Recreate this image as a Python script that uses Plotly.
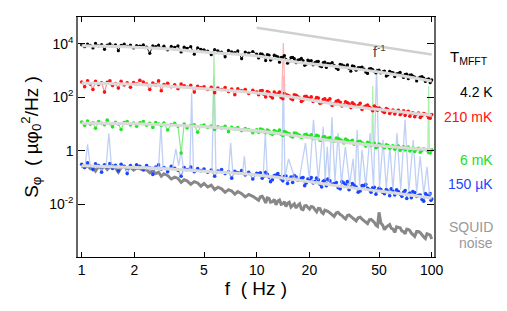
import numpy as np
import plotly.graph_objects as go

# ---------------- data (log10 of S_phi) ----------------
freq = [1.00,1.04,1.08,1.12,1.16,1.20,1.25,1.30,1.35,1.40,1.45,1.50,1.56,1.62,1.68,1.75,1.82,1.90,1.98,2.06,
        2.15,2.25,2.35,2.45,2.55,2.65,2.75,2.85,2.95,3.1,3.25,3.4,3.55,3.7,3.85,4.0,4.2,4.4,4.6,4.8,
        5.0,5.25,5.5,5.75,6.0,6.3,6.6,6.9,7.2,7.5,7.8,8.2,8.6,9.0,9.5,10.0,
        10.5,11,11.5,12,12.6,13.2,13.8,14.4,15,15.7,16.4,17.2,18,18.8,19.6,
        20.5,21.5,22.5,23.5,24.5,25.5,27,28.5,30,31.5,33,34.5,36,38,40,42,44,46,48,
        50,52.5,55,57.5,60,63,66,69,72,75,78,82,86,90,94,98,100]

# extra in-between frequencies (the spectra are dense above 10 Hz)
freq_hi = [10.25,10.75,11.25,11.75,12.3,12.9,13.5,14.1,14.7,15.35,16.05,16.8,17.6,18.4,19.2,
           20.05,21,22,23,24,25,26.2,27.7,29.2,30.7,32.2,33.7,35.2,37,39,41,43,45,47,49,
           51.2,53.7,56.2,58.7,61.5,64.5,67.5,70.5,73.5,76.5,80,84,88,92,96,99]

log_4K2 = [3.97,3.90,4.00,3.95,3.85,4.02,3.93,3.98,3.80,3.96,4.01,3.92,3.97,3.75,3.95,4.00,3.91,3.96,3.85,3.94,
           3.92,3.97,3.88,3.65,3.93,3.90,3.96,3.84,3.92,3.78,3.91,3.87,3.93,3.70,3.88,3.84,3.90,3.62,3.86,3.80,
           3.78,3.73,3.60,3.79,3.74,3.70,3.52,3.76,3.71,3.68,3.74,3.45,3.70,3.66,3.72,3.62,
           3.63,3.55,3.60,3.40,3.58,3.52,3.50,3.57,3.28,3.49,3.45,3.40,3.46,3.20,3.40,
           3.38,3.30,3.35,3.15,3.32,3.27,3.30,3.10,3.24,3.18,3.22,2.98,3.16,3.12,3.14,2.95,3.07,3.04,2.92,
           3.02,2.96,2.80,2.98,2.93,2.88,2.94,2.75,2.87,2.84,2.80,2.62,2.76,2.72,2.68,2.55,2.66]
log_4K2_hi = [3.48,3.62,3.38,3.58,3.45,3.55,3.32,3.50,3.42,3.36,3.50,3.30,3.42,3.38,3.25,
              3.36,3.22,3.34,3.18,3.30,3.12,3.26,3.20,3.05,3.22,3.14,3.08,3.18,3.02,3.12,3.06,2.90,3.08,2.98,3.00,
              2.92,2.99,2.84,2.94,2.78,2.90,2.82,2.86,2.70,2.85,2.76,2.72,2.78,2.60,2.70,2.62]

log_210mK = [2.58,2.40,2.62,2.50,2.30,2.60,2.48,2.55,2.20,2.57,2.62,2.45,2.52,2.35,2.60,2.47,2.55,2.38,2.56,2.50,
             2.64,2.58,2.50,2.30,2.54,2.46,2.62,2.25,2.48,2.53,2.40,2.47,2.33,2.50,2.44,2.38,2.45,2.20,2.42,2.36,
             2.40,2.30,2.38,2.18,2.35,2.30,2.37,2.22,2.31,2.10,2.32,2.25,2.30,2.15,2.27,2.20,
             2.25,2.12,2.22,2.05,2.20,2.14,2.00,2.15,2.08,1.95,2.10,2.02,1.85,2.03,1.98,
             2.02,1.90,1.98,1.80,1.95,1.88,1.70,1.86,1.82,1.72,1.80,1.62,1.74,1.70,1.55,1.68,1.63,1.50,1.62,
             1.60,1.48,1.58,1.40,1.53,1.47,1.35,1.50,1.44,1.30,1.43,1.38,1.25,1.40,1.33,1.22,1.36]
log_210mK_hi = [2.10,2.26,2.02,2.18,1.98,2.12,2.20,1.95,2.10,2.05,1.92,2.08,1.98,1.90,2.04,
                1.96,1.85,2.00,1.78,1.92,1.84,1.95,1.76,1.88,1.68,1.84,1.75,1.80,1.66,1.78,1.64,1.72,1.58,1.68,1.52,
                1.56,1.44,1.55,1.47,1.38,1.52,1.42,1.33,1.48,1.40,1.28,1.42,1.32,1.37,1.24,1.34]

log_6mK = [1.08,0.95,1.12,1.00,1.05,0.85,1.10,1.03,0.98,1.15,1.02,0.90,1.07,1.01,0.80,1.06,1.10,0.97,1.04,0.92,
           1.05,1.10,0.96,1.03,0.88,1.06,1.00,0.95,1.04,0.78,0.99,1.03,0.92,-0.08,1.00,0.86,0.95,0.98,0.70,0.93,
           0.97,0.88,0.93,0.80,0.90,0.86,0.92,0.72,0.88,0.83,0.87,0.76,0.84,0.80,0.68,0.79,
           0.82,0.74,0.78,0.65,0.76,0.70,0.62,0.72,0.66,0.55,0.67,0.61,0.50,0.60,0.56,
           0.60,0.50,0.56,0.42,0.53,0.47,0.38,0.48,0.42,0.30,0.40,0.36,0.25,0.35,0.30,0.18,0.28,0.24,0.12,
           0.26,0.16,0.23,0.10,0.19,0.14,0.02,0.15,0.11,0.00,0.10,0.06,-0.05,0.07,0.03,-0.08,0.04]
log_6mK_hi = [0.70,0.80,0.68,0.74,0.62,0.72,0.78,0.58,0.70,0.64,0.52,0.66,0.58,0.54,0.62,
              0.55,0.46,0.58,0.40,0.52,0.44,0.50,0.36,0.46,0.38,0.44,0.32,0.40,0.28,0.36,0.26,0.32,0.20,0.28,0.16,
              0.22,0.12,0.20,0.14,0.06,0.18,0.09,0.04,0.14,0.06,-0.02,0.10,0.02,0.05,-0.06,0.02]

log_150uK = [-0.50,-0.62,-0.45,-0.58,-0.70,-0.48,-0.55,-0.80,-0.52,-0.60,-0.47,-0.66,-0.54,-0.75,-0.50,-0.58,-0.85,-0.55,-0.62,-0.52,
             -0.58,-0.70,-0.55,-0.63,-0.88,-0.60,-0.52,-0.68,-0.62,-0.78,-0.58,-0.65,-0.72,-0.95,-0.62,-0.70,-0.60,-0.78,-0.66,-0.74,
             -0.68,-0.80,-0.72,-0.95,-0.75,-0.70,-0.85,-0.78,-1.02,-0.76,-0.82,-0.74,-0.90,-0.80,-1.05,-0.84,
             -0.82,-0.95,-0.88,-1.15,-0.92,-0.85,-1.05,-0.95,-1.22,-0.98,-0.92,-1.10,-1.02,-1.30,-1.05,
             -1.00,-1.15,-1.08,-1.35,-1.10,-1.05,-1.25,-1.18,-1.42,-1.20,-1.15,-1.35,-1.28,-1.55,-1.30,-1.25,-1.45,-1.38,-1.62,
             -1.40,-1.55,-1.45,-1.68,-1.50,-1.46,-1.62,-1.55,-1.78,-1.58,-1.52,-1.70,-1.65,-1.88,-1.66,-1.60,-1.80]
log_150uK_hi = [-0.86,-1.02,-0.80,-0.98,-1.08,-0.90,-0.96,-1.12,-0.94,-1.05,-1.18,-0.98,-1.10,-1.00,-1.20,
                -1.08,-1.20,-1.02,-1.25,-1.14,-1.30,-1.12,-1.22,-1.38,-1.15,-1.28,-1.45,-1.22,-1.35,-1.50,-1.30,-1.40,-1.55,-1.36,-1.48,
                -1.45,-1.60,-1.50,-1.42,-1.65,-1.52,-1.70,-1.48,-1.62,-1.75,-1.56,-1.66,-1.82,-1.60,-1.72,-1.85]

log_squid = [-0.58,-0.62,-0.55,-0.66,-0.60,-0.75,-0.58,-0.63,-0.57,-0.70,-0.60,-0.55,-0.64,-0.80,-0.62,-0.58,-0.66,-0.62,-0.72,-0.64,
             -0.66,-0.72,-0.70,-0.82,-0.76,-0.85,-0.80,-0.95,-0.86,-0.92,-1.05,-0.98,-1.03,-1.18,-1.08,-1.12,-1.25,-1.15,-1.20,-1.32,
             -1.22,-1.35,-1.28,-1.45,-1.36,-1.42,-1.55,-1.45,-1.50,-1.62,-1.52,-1.60,-1.72,-1.63,-1.70,-1.80,
             -1.72,-1.80,-1.76,-1.92,-1.82,-1.88,-2.00,-1.90,-1.96,-2.10,-1.98,-2.03,-2.18,-2.06,-2.12,
             -2.08,-2.20,-2.15,-2.30,-2.22,-2.26,-2.40,-2.32,-2.38,-2.50,-2.42,-2.45,-2.58,-2.50,-2.55,-2.68,-2.58,-2.62,-2.78,
             -2.30,-2.78,-2.85,-2.76,-2.92,-2.84,-2.88,-3.02,-2.93,-2.98,-3.12,-3.02,-3.06,-3.22,-3.10,-3.15,-3.30]
log_squid_hi = [-1.85,-1.70,-1.95,-1.78,-1.90,-2.02,-1.84,-1.98,-2.08,-1.92,-2.05,-2.14,-1.98,-2.20,-2.05,
                -2.18,-2.10,-2.28,-2.16,-2.35,-2.24,-2.32,-2.45,-2.30,-2.42,-2.55,-2.40,-2.50,-2.62,-2.48,-2.60,-2.72,-2.56,-2.68,-2.82,
                -2.70,-2.95,-2.80,-2.90,-3.05,-2.86,-3.00,-3.10,-2.94,-3.08,-3.20,-3.02,-3.16,-3.28,-3.12,-3.22]

# light-blue raw spectrum (spiky) at 150 uK
spk_f = [1.0,1.05,1.08,1.12,1.3,1.38,1.43,1.48,1.8,2.4,2.75,2.84,2.92,3.3,3.45,3.58,3.7,3.82,4.15,4.25,4.35,
         5.55,5.7,5.85,6.9,7.1,7.3,8.3,8.5,8.7,10.9,11.2,11.5,13.9,14.2,14.5,15.2,16.5,17.5,19.0,20.0,21.1,22.5,
         24.0,24.6,25.3,26.0,26.9,28,29.2,30.5,32.1,34,35.5,36.5,37.5,38.7,40,42,44.5,46.5,48.4,50.3,52.7,55,
         57.7,60,63.3,66.5,70.4,74,78.4,82,85.9,90,94,97,100]
spk_v = [-0.55,-0.5,0.25,-0.55,-0.6,-0.55,0.66,-0.6,-0.62,-0.6,-0.62,0.97,-0.65,-0.65,0.08,-0.55,0.0,-0.68,-0.7,2.16,-0.72,
         -0.75,2.8,-0.78,-0.8,0.3,-0.82,-0.85,-0.2,-0.88,-0.9,0.67,-0.92,-0.98,2.8,-1.0,-0.3,-1.0,-1.05,0.29,-1.05,1.16,-1.1,
         0.9,-1.1,0.15,-1.15,1.27,-1.15,0.67,-1.2,0.15,-1.25,-0.3,-1.25,0.79,-1.3,0.04,-1.3,0.67,-1.35,3.1,-1.4,0.41,-1.4,
         0.15,-1.45,0.67,-1.45,1.16,-1.5,0.41,-1.55,-0.2,-1.6,-0.6,-1.62,-1.6]

# isolated spikes of red and green spectra
red_spk_f = [13.9,14.2,14.5]
red_spk_v = [2.05,4.04,2.03]
grn_spk_f = [5.6,5.7,5.8,45.5,46,46.5,95,96,97]
grn_spk_v = [0.88,3.66,0.86,0.25,2.43,0.24,0.05,2.43,0.04]

# fitted curves (light gray)
fit_f = [1,2,3,5,10,16.6,30,50,100]
fit_4K2 = [3.93,3.88,3.82,3.70,3.55,3.33,3.14,2.95,2.61]
fit_210mK = [2.54,2.49,2.43,2.33,2.17,2.00,1.72,1.55,1.33]
fit_6mK = [1.03,1.02,0.98,0.90,0.75,0.57,0.34,0.19,0.03]
fit_150uK = [-0.56,-0.62,-0.67,-0.76,-0.90,-1.08,-1.32,-1.50,-1.76]

# f^-1 guide
guide_f = [10,100]
guide_v = [4.61,3.61]

xtick_vals = [1,2,5,10,20,50,100]
xtick_text = ["1","2","5","10","20","50","100"]
ytick_vals = [1e4,1e2,1,1e-2]
ytick_text = ["10<sup>4</sup>","10<sup>2</sup>","1","10<sup>-2</sup>"]

labels = ["4.2 K","210 mK","6 mK","150 µK"]

def merged(lo, hi):
    f = np.array(freq + freq_hi, dtype=float)
    v = np.array(lo + hi, dtype=float)
    o = np.argsort(f)
    return f[o], 10 ** v[o]

def p(v):
    return 10 ** np.array(v, dtype=float)

fig = go.Figure()

fx, fy = merged(log_squid, log_squid_hi)
fig.add_trace(go.Scatter(x=fx, y=fy, mode="lines",
                         line=dict(color="#888888", width=3.0), hoverinfo="skip"))
fx, fy = merged(log_150uK, log_150uK_hi)
fig.add_trace(go.Scatter(x=fx, y=fy, mode="lines+markers",
                         line=dict(color="rgba(60,100,255,0.6)", width=1.2),
                         marker=dict(color="#1a44ff", size=3.6), hoverinfo="skip"))
fig.add_trace(go.Scatter(x=spk_f, y=p(spk_v), mode="lines",
                         line=dict(color="rgba(170,192,242,0.75)", width=1.3), hoverinfo="skip"))
fx, fy = merged(log_6mK, log_6mK_hi)
fig.add_trace(go.Scatter(x=fx, y=fy, mode="lines+markers",
                         line=dict(color="rgba(40,225,40,0.6)", width=1.2),
                         marker=dict(color="#22e622", size=3.6), hoverinfo="skip"))
fig.add_trace(go.Scatter(x=grn_spk_f, y=p(grn_spk_v), mode="lines",
                         line=dict(color="rgba(150,235,150,0.8)", width=1.2), hoverinfo="skip"))
fx, fy = merged(log_210mK, log_210mK_hi)
fig.add_trace(go.Scatter(x=fx, y=fy, mode="lines+markers",
                         line=dict(color="rgba(255,60,60,0.6)", width=1.2),
                         marker=dict(color="#ff1010", size=3.6), hoverinfo="skip"))
fig.add_trace(go.Scatter(x=red_spk_f, y=p(red_spk_v), mode="lines",
                         line=dict(color="rgba(255,170,170,0.9)", width=1.2), hoverinfo="skip"))
fx, fy = merged(log_4K2, log_4K2_hi)
fig.add_trace(go.Scatter(x=fx, y=fy, mode="lines+markers",
                         line=dict(color="black", width=0.9),
                         marker=dict(color="black", size=3.2), hoverinfo="skip"))

for fv in [fit_4K2, fit_210mK, fit_6mK, fit_150uK]:
    fig.add_trace(go.Scatter(x=fit_f, y=p(fv), mode="lines",
                             line=dict(color="#dadada", width=3, shape="spline"), hoverinfo="skip"))
fig.add_trace(go.Scatter(x=guide_f, y=p(guide_v), mode="lines",
                         line=dict(color="#d0d0d0", width=2.5), hoverinfo="skip"))

def px2paper_x(px):
    return (px - 78) / 356.0

def px2paper_y(py):
    return (257 - py) / 240.0

ann = []
ann.append(dict(text="f<sup>-1</sup>", x=px2paper_x(388), y=px2paper_y(40), xref="paper", yref="paper",
                showarrow=False, font=dict(size=14, color="#444")))
xr = px2paper_x(495)
ann.append(dict(text="T<sub>MFFT</sub>", x=px2paper_x(490), y=px2paper_y(46), xref="paper", yref="paper",
                xanchor="right", showarrow=False, font=dict(size=15, color="black")))
label_specs = [(labels[0], 82, "black"), (labels[1], 117, "#ff1010"),
               (labels[2], 160, "#22dd22"), (labels[3], 194, "#1a44ff")]
for t, py, c in label_specs:
    ann.append(dict(text=t, x=xr, y=px2paper_y(py), xref="paper", yref="paper", xanchor="right",
                    showarrow=False, font=dict(size=14, color=c)))
ann.append(dict(text="SQUID", x=xr, y=px2paper_y(237), xref="paper", yref="paper", xanchor="right",
                showarrow=False, font=dict(size=14, color="#999999")))
ann.append(dict(text="noise", x=xr, y=px2paper_y(253), xref="paper", yref="paper", xanchor="right",
                showarrow=False, font=dict(size=14, color="#999999")))

fig.update_layout(
    width=507, height=311,
    margin=dict(l=78, r=73, t=17, b=54),
    plot_bgcolor="white", paper_bgcolor="white",
    showlegend=False,
    font=dict(family="Liberation Sans, Arial, sans-serif", color="black"),
    annotations=ann,
    xaxis=dict(type="log", range=[-0.021, 2.013], tickvals=xtick_vals, ticktext=xtick_text,
               ticks="inside", ticklen=5, tickcolor="black", mirror="ticks", showline=True,
               linecolor="black", linewidth=1, showgrid=False, zeroline=False,
               tickfont=dict(size=14), title=dict(text="f  ( Hz )", font=dict(size=19), standoff=4)),
    yaxis=dict(type="log", range=[-3.97, 5.01], tickvals=ytick_vals, ticktext=ytick_text,
               ticks="inside", ticklen=7, tickcolor="black", mirror="ticks", showline=True,
               linecolor="#666", linewidth=1.5, showgrid=False, zeroline=False,
               tickfont=dict(size=14),
               title=dict(text="S<sub>φ</sub>  ( µφ<sub>0</sub><sup>2</sup>/Hz )", font=dict(size=19), standoff=6)),
)

fig.write_html("out.html")
